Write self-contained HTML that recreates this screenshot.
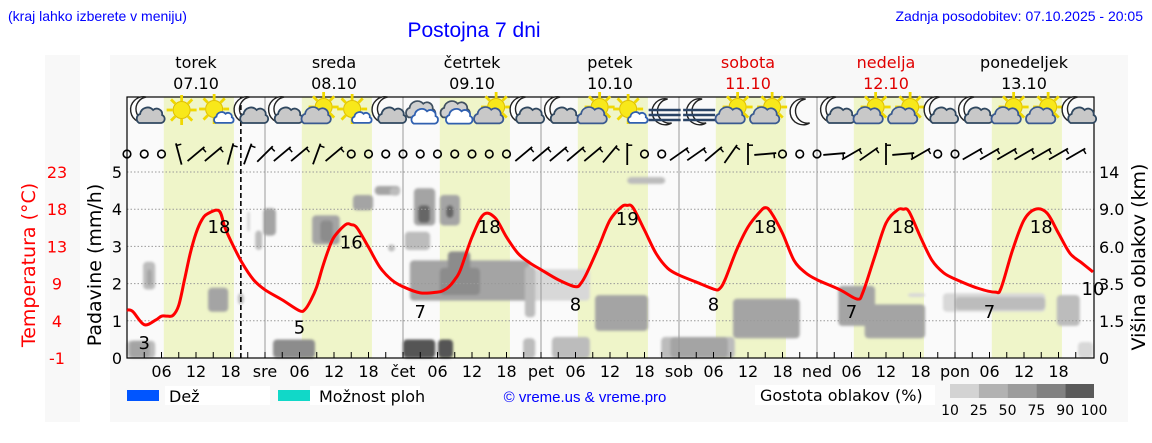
<!DOCTYPE html>
<html><head><meta charset="utf-8">
<style>
html,body{margin:0;padding:0;background:#fff;}
svg{display:block;font-family:"DejaVu Sans","Liberation Sans",sans-serif;}
.t{font-family:"Liberation Sans",sans-serif;}
</style></head>
<body>
<svg id="chart" width="1152" height="443" viewBox="0 0 1152 443" xmlns="http://www.w3.org/2000/svg">
<defs><filter id="soft" x="-20%" y="-20%" width="140%" height="140%"><feGaussianBlur stdDeviation="1.3"/></filter></defs>
<rect x="45" y="55" width="35" height="367" fill="#f8f8f8"/>
<rect x="110" y="55" width="1018" height="367" fill="#f8f8f8"/>
<text class="t" x="8" y="21" font-size="14" fill="#0000ff">(kraj lahko izberete v meniju)</text>
<text class="t" x="474" y="37" font-size="21" fill="#0000ff" text-anchor="middle">Postojna 7 dni</text>
<text class="t" x="1143" y="21" font-size="14" fill="#0000ff" text-anchor="end">Zadnja posodobitev: 07.10.2025 - 20:05</text>
<g id="plot"></g>
<g id="legend">
<rect x="165" y="386" width="105" height="19" fill="#fff"/>
<rect x="127" y="390" width="32" height="11" fill="#0055ff"/>
<text x="169" y="402" font-size="16">Dež</text>
<rect x="310" y="386" width="110" height="19" fill="#fff"/>
<rect x="278" y="390" width="32" height="11" fill="#11d8c8"/>
<text x="319" y="402" font-size="16">Možnost ploh</text>
<text class="t" x="585" y="402" font-size="15" fill="#0000ff" text-anchor="middle">© vreme.us &amp; vreme.pro</text>
<rect x="755" y="385" width="180" height="20" fill="#fff"/>
<text x="760" y="401" font-size="16">Gostota oblakov (%)</text>
</g>
</svg>
<script>
// ---- data ----
const dayNames = ["torek","sreda","četrtek","petek","sobota","nedelja","ponedeljek"];
const dayDates = ["07.10","08.10","09.10","10.10","11.10","12.10","13.10"];
const dayAbbr = ["","sre","čet","pet","sob","ned","pon"];
const weekendDays = [4,5];
const precipTicks = [0,1,2,3,4,5];
const tempTicks = ["-1","4","9","13","18","23"];
const cloudTicks = ["0","1.5","3.5","6.0","9.0","14"];
const cloudLevels = [0,1.5,3.5,6,9,14];
const tHours = [0,1,3,5,6,7,8,9,10,11,12,13,14,16,17,18,20,22,24,27,30,31,32,33,34,35,36,38,39,40,42,44,46,48,51,54,55,56,57,58,60,62,64,66,68,70,72,75,78,79,80,82,84,86,87,88,90,92,94,96,99,102,103,104,106,108,110,111,112,114,116,118,120,124,127,128,130,132,134,135,136,138,140,142,144,148,151,152,154,156,158,160,162,164,166,168];
const tVals = [5.2,5.0,3.3,3.9,4.4,4.4,4.5,5.8,9.1,12.5,15.1,16.8,17.6,18.0,15.9,14.2,11.3,9.1,7.8,6.5,5.1,5.3,6.5,8.2,10.7,12.9,14.6,16.2,16.2,15.8,13.3,10.7,9.1,8.2,7.4,7.5,7.7,8.2,9.1,10.4,14.6,17.5,17.1,14.6,12.5,11.3,10.4,9.1,8.2,8.7,10.0,13.3,16.8,18.5,18.7,18.4,15.5,12.5,10.6,9.7,8.8,7.9,7.9,9.1,12.9,15.9,17.8,18.4,17.8,15.1,11.6,10.0,9.1,7.8,6.6,7.5,12.0,16.4,18.1,18.2,17.9,14.6,11.6,10.0,9.2,8.0,7.5,8.0,12.9,16.8,18.2,17.7,15.1,12.5,11.3,10.1];
const labelHours = [3,16,30,39,51,63,78,87,102,111,126,135,150,159,168];
const labelVals = [3,18,5,16,7,18,8,19,8,18,7,18,7,18,10];
const iconTypes = ['mc','s','sc','mc','mc','sC','sc','mc','c','c','sC','mc','mc','sC','sc','mf','mf','sC','sC','m','mc','sC','sC','mc','mc','sC','sC','mc'];
const windAngles = [null,null,null,-15,50,50,15,20,45,50,50,20,50,null,null,null,null,null,null,null,null,null,null,50,50,50,50,50,40,0,null,null,55,55,50,35,0,85,null,null,null,85,60,55,0,85,60,null,null,60,60,60,60,60,60,60];
// cloud patches: start hour, end hour, low km, high km, density %
const cloudStart = [2.8,3.5,14.1,19.3,20.9,22.3,23.7,32.2,33.6,39.3,43.1,45.4,0,0.5,25.4,45.7,49.9,50.6,54.4,55.5,48.3,49.2,54.4,55.8,70.1,69.2,81.4,87,48,54.1,68.9,73.9,92.9,94.5,105.4,123.7,128.3,135.8,141.9,144,161.7,165.4];
const cloudEnd   = [4.9,4.3,17.6,20.3,21.4,23.5,25.9,37,35.8,42.8,47.5,46.6,4.9,4,32.7,47.5,53.6,52.7,57.9,56.8,52.7,70.1,61.4,59.7,80.5,71,90.6,93.6,53.6,56.7,71,80.5,105.7,104.5,117,130.1,138.8,138.8,159.7,159.7,165.7,168];
const cloudLow   = [3.2,3.4,2.0,2.4,7.2,5.8,6.9,6.2,6.4,8.9,10.9,5.7,0,0,0,10.8,7.7,7.9,7.7,8.3,5.8,2.6,2.9,4.1,2.6,1.7,1.1,12.4,0,0,0,0,0,0,0.8,1.3,0.8,2.8,2.0,2.1,1.3,0];
const cloudHigh  = [5.0,4.5,3.3,3.0,8.8,7.3,9.1,8.5,8.1,10.9,12.1,6.2,0.7,0.7,0.75,11.9,11.8,9.5,10.9,9.5,7.2,5.1,4.6,5.7,4.5,4.7,2.9,13.3,0.75,0.75,0.8,0.85,0.85,0.85,2.7,3.4,2.4,3.0,3.0,2.8,2.9,0.65];
const cloudDens  = [25,50,50,25,10,25,50,50,75,50,50,25,25,50,75,25,50,90,50,90,25,50,75,75,10,25,50,25,100,100,25,25,25,50,50,50,50,10,10,25,25,10];
const densLegend = ["10","25","50","75","90","100"];

// ---- axes ----
const X0=127, X1=1094, Y0=358, YT=97, PH=5.75;
const xH = h => X0 + h*PH;
const yP = p => Y0 - p*37.2;
const yT = t => Y0 - (t+1)*7.75;
const lvlY = [358,321,284,247,209,172];
function yK(k){for(let i=0;i<cloudLevels.length-1;i++){if(k<=cloudLevels[i+1]){const f=(k-cloudLevels[i])/(cloudLevels[i+1]-cloudLevels[i]);return lvlY[i]+f*(lvlY[i+1]-lvlY[i]);}}return 172;}
function dCol(d){if(d>=100)return"#555";if(d>=90)return"#666";if(d>=75)return"#8c8c8c";if(d>=50)return"#a4a4a4";if(d>=25)return"#bcbcbc";return"#d8d8d8";}

const NS="http://www.w3.org/2000/svg";
const plot=document.getElementById('plot');
const legendG=document.getElementById('legend');
function mk(tag,attrs,parent){const el=document.createElementNS(NS,tag);for(const k in attrs)el.setAttribute(k,attrs[k]);(parent||plot).appendChild(el);return el;}

let e;
e=mk('rect',{x:X0,y:YT,width:X1-X0,height:Y0-YT,fill:'#fafafa'});


for(let d=0;d<7;d++){
  const s=d*24+6.4, en=Math.min(d*24+18.6, d===0?19.8:999);
  e=mk('rect',{x:xH(s),y:YT,width:xH(en)-xH(s),height:Y0-YT,fill:'#eff5c9'});
  
  
}
const cloudG=mk('g',{filter:'url(#soft)'});


for(let i=0;i<cloudStart.length;i++){
  const x1=xH(cloudStart[i]),x2=xH(cloudEnd[i]),y1=yK(cloudHigh[i]),y2=yK(cloudLow[i]);
  e=mk('rect',{x:x1,y:y1,width:x2-x1,height:y2-y1,rx:4,fill:dCol(cloudDens[i])},cloudG);
  
  
}
for(let d=1;d<7;d++){
  e=mk('line',{x1:xH(d*24),x2:xH(d*24),y1:YT,y2:Y0,stroke:'#999','stroke-width':1});
  
  
}
for(let i=1;i<precipTicks.length;i++){
  e=mk('line',{x1:X0,x2:X1,y1:yP(precipTicks[i]),y2:yP(precipTicks[i]),stroke:'#999','stroke-width':1,'stroke-dasharray':'1.5,2'});
  
  
}
e=mk('line',{x1:xH(19.8),x2:xH(19.8),y1:YT,y2:Y0,stroke:'#000','stroke-width':1.6,'stroke-dasharray':'5,3'});


e=mk('rect',{x:X0,y:YT,width:X1-X0,height:Y0-YT,fill:'none',stroke:'#000','stroke-width':1.2});


// smooth temperature line (Catmull-Rom)
const pts=tHours.map((h,i)=>[xH(h),yT(tVals[i])]);
let dPath=`M${pts[0][0]},${pts[0][1]}`;
for(let i=0;i<pts.length-1;i++){
  const p0=pts[Math.max(0,i-1)],p1=pts[i],p2=pts[i+1],p3=pts[Math.min(pts.length-1,i+2)];
  const c1=[p1[0]+(p2[0]-p0[0])/6,p1[1]+(p2[1]-p0[1])/6],c2=[p2[0]-(p3[0]-p1[0])/6,p2[1]-(p3[1]-p1[1])/6];
  dPath+=` C${c1[0]},${c1[1]} ${c2[0]},${c2[1]} ${p2[0]},${p2[1]}`;
}
e=mk('path',{d:dPath,fill:'none',stroke:'#ff0000','stroke-width':3,'stroke-linejoin':'round'});


for(let i=0;i<labelHours.length;i++){
  e=mk('text',{x:xH(labelHours[i]),y:yT(labelVals[i])+22,'font-size':18,'text-anchor':'middle'});
  e.textContent=labelVals[i];
  
  
}
for(let h=3;h<168;h+=3){
  e=mk('line',{x1:xH(h),x2:xH(h),y1:Y0-6,y2:Y0,stroke:'#000','stroke-width':1});
  
  
}
for(let d=0;d<7;d++){
  [6,12,18].forEach(hh=>{
    const t=mk('text',{x:xH(d*24+hh),y:Y0+19,'font-size':16,'text-anchor':'middle'});
    t.textContent=(hh<10?'0':'')+hh;
    
    
  });
  if(dayAbbr[d]){
    e=mk('text',{x:xH(d*24),y:Y0+19,'font-size':16,'text-anchor':'middle'});
    e.textContent=dayAbbr[d];
    
    
  }
  const col=weekendDays.includes(d)?'#e00000':'#000';
  e=mk('text',{x:xH(d*24+12),y:68,'font-size':16,'text-anchor':'middle',fill:col});
  e.textContent=dayNames[d];
  
  
  e=mk('text',{x:xH(d*24+12),y:89,'font-size':16,'text-anchor':'middle',fill:col});
  e.textContent=dayDates[d];
  
  
}
for(let i=0;i<precipTicks.length;i++){
  const y=yP(precipTicks[i]);
  e=mk('text',{x:122,y:y+6,'font-size':16,'text-anchor':'end'});
  e.textContent=precipTicks[i];
  
  
  e=mk('text',{x:57,y:y+6,'font-size':16,'text-anchor':'middle',fill:'#ff0000'});
  e.textContent=tempTicks[i];
  
  
  e=mk('text',{x:1099,y:lvlY[i]+6,'font-size':16});
  e.textContent=cloudTicks[i];
  
  
}
e=mk('text',{x:0,y:0,'font-size':19,'text-anchor':'middle',transform:'translate(101,265) rotate(-90)'});
e.textContent='Padavine (mm/h)';


e=mk('text',{x:0,y:0,'font-size':19,'text-anchor':'middle',fill:'#ff0000',transform:'translate(35,265) rotate(-90)'});
e.textContent='Temperatura (°C)';


e=mk('text',{x:0,y:0,'font-size':19,'text-anchor':'middle',transform:'translate(1145,257) rotate(-90)'});
e.textContent='Višina oblakov (km)';



function cloudPath(cx,cy,s,fill,stroke,parent){
  const p=`M${cx-12},${cy+7} a5 5 0 0 1 1,-9 a7.5 7.5 0 0 1 13,-4 a5.5 5.5 0 0 1 9,5 a4.2 4.2 0 0 1 -1,8 z`;
  return mk('path',{d:p,fill:fill,stroke:stroke,'stroke-width':1.8/s,transform:`translate(${cx},${cy}) scale(${s}) translate(${-cx},${-cy})`},parent);
}
function sun(cx,cy,parent){
  for(let a=0;a<360;a+=45){const r=a*Math.PI/180;
    mk('line',{x1:cx+9*Math.cos(r),y1:cy+9*Math.sin(r),x2:cx+15*Math.cos(r),y2:cy+15*Math.sin(r),stroke:'#f0d800','stroke-width':2.8},parent);}
  mk('circle',{cx:cx,cy:cy,r:8.5,fill:'#f8e81a',stroke:'#e0c000','stroke-width':1},parent);
}
function moon(cx,cy,parent){
  mk('path',{d:`M${cx+3},${cy-13} A13 13 0 1 0 ${cx+7},${cy+11} A11 11 0 0 1 ${cx+3},${cy-13} Z`,fill:'#fff',stroke:'#222','stroke-width':1.4},parent);
}
iconTypes.forEach((t,i)=>{
  const cx=xH(3.5+6*i), cy=112;
  const g=mk('g',{});
  
  
  if(t==='s'){sun(cx,cy-2,g);}
  if(t==='sc'){sun(cx-2,cy-3,g);cloudPath(cx+8,cy+6,0.7,'#fff','#3060b0',g);}
  if(t==='sC'){sun(cx+4,cy-5,g);cloudPath(cx-3,cy+4,1.05,'#c8c8c8','#3a5a90',g);}
  if(t==='c'){cloudPath(cx-2,cy-2,1.05,'#d0d0d0','#405060',g);cloudPath(cx+2,cy+5,0.95,'#fff','#3060b0',g);}
  if(t==='mc'){moon(cx-4,cy-2,g);cloudPath(cx+4,cy+4,1.0,'#c8c8c8','#304860',g);}
  if(t==='m'){moon(cx,cy,g);}
  if(t==='mf'){moon(cx,cy,g);
    [cy-2,cy+3,cy+8].forEach(yy=>mk('line',{x1:cx-16,x2:cx+16,y1:yy,y2:yy,stroke:'#2a4466','stroke-width':2.5},g));}
});
windAngles.forEach((a,i)=>{
  const cx=xH(i*3), cy=154;
  let g;
  if(a===null){
    g=mk('circle',{cx:cx,cy:cy,r:3.8,fill:'none',stroke:'#000','stroke-width':1.6});
  } else {
    const r=a*Math.PI/180, dx=Math.sin(r)*11, dy=-Math.cos(r)*11;
    g=mk('g',{});
    mk('line',{x1:cx-dx,y1:cy-dy,x2:cx+dx,y2:cy+dy,stroke:'#000','stroke-width':1.8},g);
    const px=Math.cos(r)*5, py=Math.sin(r)*5;
    mk('line',{x1:cx+dx*0.8,y1:cy+dy*0.8,x2:cx+dx*0.8+px,y2:cy+dy*0.8+py,stroke:'#000','stroke-width':1.5},g);
  }
  
  
});
const densCols=['#d3d3d3','#b2b2b2','#9c9c9c','#818181','#5a5a5a'];
for(let i=0;i<5;i++){
  e=mk('rect',{x:950+i*28.8,y:384,width:28.8,height:14,fill:densCols[i]},legendG);
  
  
}
densLegend.forEach((s,i)=>{
  const t=mk('text',{x:950+i*28.8,y:415,'font-size':14,'text-anchor':'middle'},legendG);
  t.textContent=s;
  
  
});
</script>
</body></html>
